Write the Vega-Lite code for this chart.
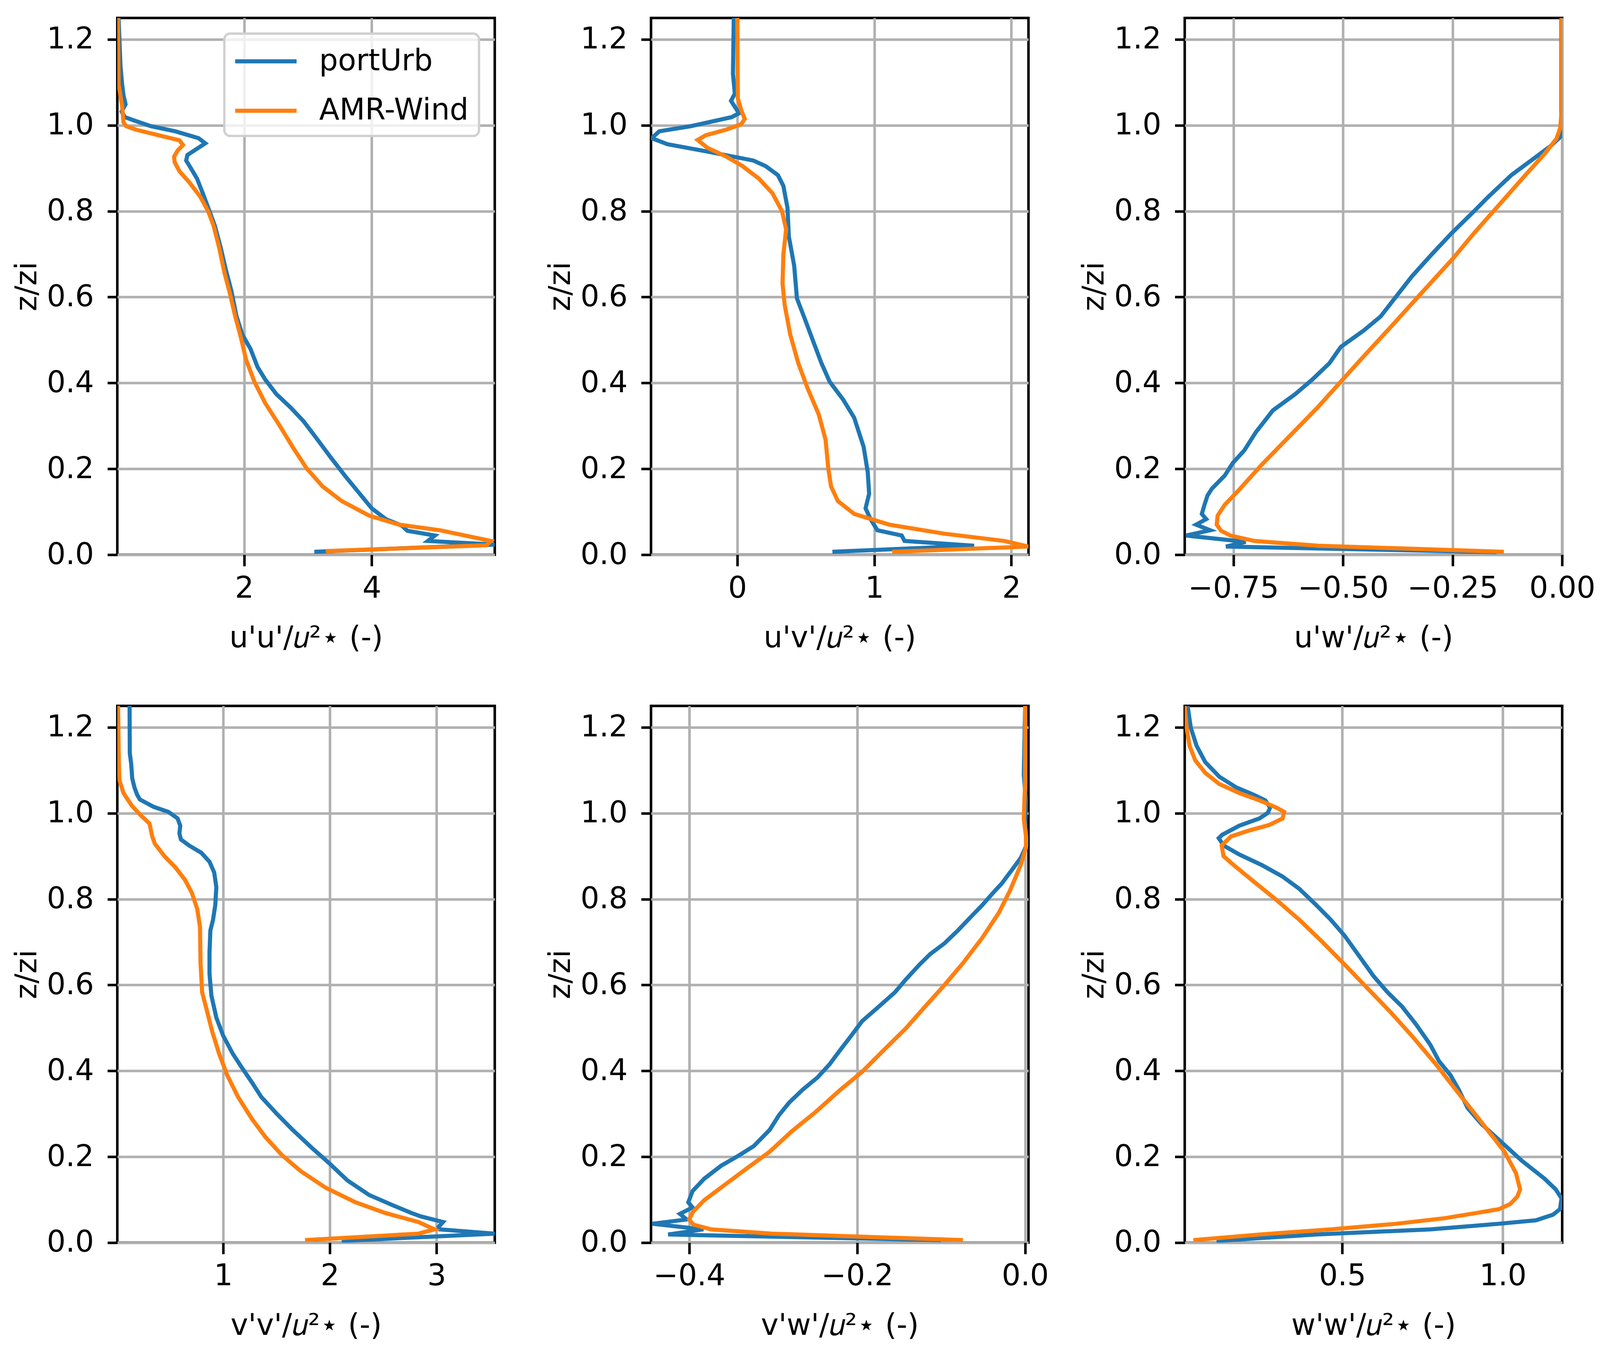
{
"$schema":"https://vega.github.io/schema/vega-lite/v6.json",
"background":"white",
"padding":{"left":27.3,"top":42,"right":3,"bottom":3},
"data":{"values":[
{"panel":"uu","model":"portUrb","x":0.03,"z":1.25},{"panel":"uu","model":"portUrb","x":0.06,"z":1.138},{"panel":"uu","model":"portUrb","x":0.086,"z":1.095},{"panel":"uu","model":"portUrb","x":0.107,"z":1.07},{"panel":"uu","model":"portUrb","x":0.14,"z":1.049},{"panel":"uu","model":"portUrb","x":0.077,"z":1.032},{"panel":"uu","model":"portUrb","x":0.13,"z":1.019},{"panel":"uu","model":"portUrb","x":0.28,"z":1.011},{"panel":"uu","model":"portUrb","x":0.535,"z":0.998},{"panel":"uu","model":"portUrb","x":0.92,"z":0.986},{"panel":"uu","model":"portUrb","x":1.285,"z":0.97},{"panel":"uu","model":"portUrb","x":1.39,"z":0.958},{"panel":"uu","model":"portUrb","x":1.11,"z":0.931},{"panel":"uu","model":"portUrb","x":1.09,"z":0.918},{"panel":"uu","model":"portUrb","x":1.16,"z":0.901},{"panel":"uu","model":"portUrb","x":1.26,"z":0.876},{"panel":"uu","model":"portUrb","x":1.35,"z":0.842},{"panel":"uu","model":"portUrb","x":1.456,"z":0.8},{"panel":"uu","model":"portUrb","x":1.54,"z":0.766},{"panel":"uu","model":"portUrb","x":1.63,"z":0.716},{"panel":"uu","model":"portUrb","x":1.71,"z":0.665},{"panel":"uu","model":"portUrb","x":1.8,"z":0.614},{"panel":"uu","model":"portUrb","x":1.88,"z":0.555},{"panel":"uu","model":"portUrb","x":1.97,"z":0.513},{"panel":"uu","model":"portUrb","x":2.1,"z":0.479},{"panel":"uu","model":"portUrb","x":2.21,"z":0.437},{"panel":"uu","model":"portUrb","x":2.33,"z":0.408},{"panel":"uu","model":"portUrb","x":2.505,"z":0.374},{"panel":"uu","model":"portUrb","x":2.72,"z":0.344},{"panel":"uu","model":"portUrb","x":2.93,"z":0.311},{"panel":"uu","model":"portUrb","x":3.15,"z":0.268},{"panel":"uu","model":"portUrb","x":3.36,"z":0.226},{"panel":"uu","model":"portUrb","x":3.58,"z":0.184},{"panel":"uu","model":"portUrb","x":3.79,"z":0.146},{"panel":"uu","model":"portUrb","x":4.0,"z":0.108},{"panel":"uu","model":"portUrb","x":4.22,"z":0.083},{"panel":"uu","model":"portUrb","x":4.475,"z":0.0675},{"panel":"uu","model":"portUrb","x":4.56,"z":0.0557},{"panel":"uu","model":"portUrb","x":4.99,"z":0.0447},{"panel":"uu","model":"portUrb","x":4.88,"z":0.032},{"panel":"uu","model":"portUrb","x":5.93,"z":0.0236},{"panel":"uu","model":"portUrb","x":3.1,"z":0.0068},
{"panel":"uv","model":"portUrb","x":-0.026,"z":1.25},{"panel":"uv","model":"portUrb","x":-0.032,"z":1.12},{"panel":"uv","model":"portUrb","x":-0.026,"z":1.1},{"panel":"uv","model":"portUrb","x":-0.018,"z":1.074},{"panel":"uv","model":"portUrb","x":-0.046,"z":1.057},{"panel":"uv","model":"portUrb","x":-0.022,"z":1.045},{"panel":"uv","model":"portUrb","x":0.012,"z":1.028},{"panel":"uv","model":"portUrb","x":-0.042,"z":1.019},{"panel":"uv","model":"portUrb","x":-0.34,"z":0.998},{"panel":"uv","model":"portUrb","x":-0.57,"z":0.986},{"panel":"uv","model":"portUrb","x":-0.625,"z":0.97},{"panel":"uv","model":"portUrb","x":-0.51,"z":0.956},{"panel":"uv","model":"portUrb","x":-0.22,"z":0.939},{"panel":"uv","model":"portUrb","x":0.117,"z":0.918},{"panel":"uv","model":"portUrb","x":0.207,"z":0.905},{"panel":"uv","model":"portUrb","x":0.296,"z":0.884},{"panel":"uv","model":"portUrb","x":0.336,"z":0.859},{"panel":"uv","model":"portUrb","x":0.366,"z":0.808},{"panel":"uv","model":"portUrb","x":0.376,"z":0.741},{"panel":"uv","model":"portUrb","x":0.415,"z":0.673},{"panel":"uv","model":"portUrb","x":0.435,"z":0.597},{"panel":"uv","model":"portUrb","x":0.495,"z":0.547},{"panel":"uv","model":"portUrb","x":0.555,"z":0.496},{"panel":"uv","model":"portUrb","x":0.614,"z":0.446},{"panel":"uv","model":"portUrb","x":0.674,"z":0.403},{"panel":"uv","model":"portUrb","x":0.773,"z":0.361},{"panel":"uv","model":"portUrb","x":0.853,"z":0.319},{"panel":"uv","model":"portUrb","x":0.922,"z":0.251},{"panel":"uv","model":"portUrb","x":0.952,"z":0.192},{"panel":"uv","model":"portUrb","x":0.962,"z":0.142},{"panel":"uv","model":"portUrb","x":0.936,"z":0.108},{"panel":"uv","model":"portUrb","x":0.972,"z":0.083},{"panel":"uv","model":"portUrb","x":1.022,"z":0.057},{"panel":"uv","model":"portUrb","x":1.2,"z":0.0447},{"panel":"uv","model":"portUrb","x":1.22,"z":0.032},{"panel":"uv","model":"portUrb","x":1.728,"z":0.021},{"panel":"uv","model":"portUrb","x":0.694,"z":0.0068},
{"panel":"uw","model":"portUrb","x":-0.002,"z":1.25},{"panel":"uw","model":"portUrb","x":-0.002,"z":1.0},{"panel":"uw","model":"portUrb","x":0.0,"z":0.977},{"panel":"uw","model":"portUrb","x":-0.026,"z":0.952},{"panel":"uw","model":"portUrb","x":-0.071,"z":0.918},{"panel":"uw","model":"portUrb","x":-0.116,"z":0.884},{"panel":"uw","model":"portUrb","x":-0.168,"z":0.834},{"panel":"uw","model":"portUrb","x":-0.201,"z":0.8},{"panel":"uw","model":"portUrb","x":-0.252,"z":0.749},{"panel":"uw","model":"portUrb","x":-0.298,"z":0.699},{"panel":"uw","model":"portUrb","x":-0.343,"z":0.648},{"panel":"uw","model":"portUrb","x":-0.382,"z":0.597},{"panel":"uw","model":"portUrb","x":-0.414,"z":0.555},{"panel":"uw","model":"portUrb","x":-0.453,"z":0.522},{"panel":"uw","model":"portUrb","x":-0.505,"z":0.484},{"panel":"uw","model":"portUrb","x":-0.531,"z":0.446},{"panel":"uw","model":"portUrb","x":-0.57,"z":0.408},{"panel":"uw","model":"portUrb","x":-0.609,"z":0.374},{"panel":"uw","model":"portUrb","x":-0.66,"z":0.336},{"panel":"uw","model":"portUrb","x":-0.699,"z":0.285},{"panel":"uw","model":"portUrb","x":-0.725,"z":0.243},{"panel":"uw","model":"portUrb","x":-0.751,"z":0.214},{"panel":"uw","model":"portUrb","x":-0.77,"z":0.184},{"panel":"uw","model":"portUrb","x":-0.799,"z":0.154},{"panel":"uw","model":"portUrb","x":-0.809,"z":0.138},{"panel":"uw","model":"portUrb","x":-0.816,"z":0.116},{"panel":"uw","model":"portUrb","x":-0.822,"z":0.095},{"panel":"uw","model":"portUrb","x":-0.812,"z":0.083},{"panel":"uw","model":"portUrb","x":-0.835,"z":0.07},{"panel":"uw","model":"portUrb","x":-0.803,"z":0.057},{"panel":"uw","model":"portUrb","x":-0.858,"z":0.0447},{"panel":"uw","model":"portUrb","x":-0.722,"z":0.03},{"panel":"uw","model":"portUrb","x":-0.767,"z":0.019},{"panel":"uw","model":"portUrb","x":-0.15,"z":0.006},
{"panel":"vv","model":"portUrb","x":0.123,"z":1.25},{"panel":"vv","model":"portUrb","x":0.125,"z":1.14},{"panel":"vv","model":"portUrb","x":0.138,"z":1.115},{"panel":"vv","model":"portUrb","x":0.148,"z":1.081},{"panel":"vv","model":"portUrb","x":0.169,"z":1.06},{"panel":"vv","model":"portUrb","x":0.194,"z":1.043},{"panel":"vv","model":"portUrb","x":0.22,"z":1.032},{"panel":"vv","model":"portUrb","x":0.348,"z":1.015},{"panel":"vv","model":"portUrb","x":0.488,"z":1.003},{"panel":"vv","model":"portUrb","x":0.573,"z":0.988},{"panel":"vv","model":"portUrb","x":0.598,"z":0.971},{"panel":"vv","model":"portUrb","x":0.59,"z":0.953},{"panel":"vv","model":"portUrb","x":0.604,"z":0.939},{"panel":"vv","model":"portUrb","x":0.68,"z":0.925},{"panel":"vv","model":"portUrb","x":0.795,"z":0.908},{"panel":"vv","model":"portUrb","x":0.872,"z":0.887},{"panel":"vv","model":"portUrb","x":0.916,"z":0.862},{"panel":"vv","model":"portUrb","x":0.936,"z":0.828},{"panel":"vv","model":"portUrb","x":0.926,"z":0.786},{"panel":"vv","model":"portUrb","x":0.905,"z":0.752},{"panel":"vv","model":"portUrb","x":0.88,"z":0.727},{"panel":"vv","model":"portUrb","x":0.872,"z":0.676},{"panel":"vv","model":"portUrb","x":0.872,"z":0.626},{"panel":"vv","model":"portUrb","x":0.89,"z":0.575},{"panel":"vv","model":"portUrb","x":0.936,"z":0.524},{"panel":"vv","model":"portUrb","x":1.0,"z":0.482},{"panel":"vv","model":"portUrb","x":1.09,"z":0.44},{"panel":"vv","model":"portUrb","x":1.166,"z":0.411},{"panel":"vv","model":"portUrb","x":1.27,"z":0.373},{"panel":"vv","model":"portUrb","x":1.358,"z":0.339},{"panel":"vv","model":"portUrb","x":1.499,"z":0.301},{"panel":"vv","model":"portUrb","x":1.65,"z":0.263},{"panel":"vv","model":"portUrb","x":1.83,"z":0.221},{"panel":"vv","model":"portUrb","x":1.985,"z":0.187},{"panel":"vv","model":"portUrb","x":2.164,"z":0.145},{"panel":"vv","model":"portUrb","x":2.368,"z":0.111},{"panel":"vv","model":"portUrb","x":2.6,"z":0.086},{"panel":"vv","model":"portUrb","x":2.765,"z":0.069},{"panel":"vv","model":"portUrb","x":2.854,"z":0.061},{"panel":"vv","model":"portUrb","x":3.06,"z":0.048},{"panel":"vv","model":"portUrb","x":3.02,"z":0.037},{"panel":"vv","model":"portUrb","x":3.03,"z":0.031},{"panel":"vv","model":"portUrb","x":3.545,"z":0.021},{"panel":"vv","model":"portUrb","x":2.11,"z":0.004},
{"panel":"vw","model":"portUrb","x":0.0,"z":1.25},{"panel":"vw","model":"portUrb","x":-0.0016,"z":1.089},{"panel":"vw","model":"portUrb","x":0.001,"z":1.03},{"panel":"vw","model":"portUrb","x":0.0,"z":0.971},{"panel":"vw","model":"portUrb","x":0.0026,"z":0.929},{"panel":"vw","model":"portUrb","x":-0.0055,"z":0.895},{"panel":"vw","model":"portUrb","x":-0.018,"z":0.862},{"panel":"vw","model":"portUrb","x":-0.028,"z":0.836},{"panel":"vw","model":"portUrb","x":-0.038,"z":0.815},{"panel":"vw","model":"portUrb","x":-0.051,"z":0.786},{"panel":"vw","model":"portUrb","x":-0.064,"z":0.76},{"panel":"vw","model":"portUrb","x":-0.08,"z":0.727},{"panel":"vw","model":"portUrb","x":-0.096,"z":0.697},{"panel":"vw","model":"portUrb","x":-0.113,"z":0.672},{"panel":"vw","model":"portUrb","x":-0.126,"z":0.647},{"panel":"vw","model":"portUrb","x":-0.142,"z":0.613},{"panel":"vw","model":"portUrb","x":-0.155,"z":0.583},{"panel":"vw","model":"portUrb","x":-0.174,"z":0.55},{"panel":"vw","model":"portUrb","x":-0.194,"z":0.516},{"panel":"vw","model":"portUrb","x":-0.207,"z":0.482},{"panel":"vw","model":"portUrb","x":-0.22,"z":0.449},{"panel":"vw","model":"portUrb","x":-0.233,"z":0.415},{"panel":"vw","model":"portUrb","x":-0.247,"z":0.385},{"panel":"vw","model":"portUrb","x":-0.265,"z":0.356},{"panel":"vw","model":"portUrb","x":-0.281,"z":0.326},{"panel":"vw","model":"portUrb","x":-0.293,"z":0.297},{"panel":"vw","model":"portUrb","x":-0.304,"z":0.263},{"panel":"vw","model":"portUrb","x":-0.323,"z":0.225},{"panel":"vw","model":"portUrb","x":-0.34,"z":0.204},{"panel":"vw","model":"portUrb","x":-0.362,"z":0.179},{"panel":"vw","model":"portUrb","x":-0.382,"z":0.149},{"panel":"vw","model":"portUrb","x":-0.396,"z":0.12},{"panel":"vw","model":"portUrb","x":-0.401,"z":0.094},{"panel":"vw","model":"portUrb","x":-0.396,"z":0.082},{"panel":"vw","model":"portUrb","x":-0.411,"z":0.067},{"panel":"vw","model":"portUrb","x":-0.403,"z":0.054},{"panel":"vw","model":"portUrb","x":-0.444,"z":0.044},{"panel":"vw","model":"portUrb","x":-0.383,"z":0.031},{"panel":"vw","model":"portUrb","x":-0.425,"z":0.019},{"panel":"vw","model":"portUrb","x":-0.1,"z":0.006},
{"panel":"ww","model":"portUrb","x":0.018,"z":1.25},{"panel":"ww","model":"portUrb","x":0.028,"z":1.199},{"panel":"ww","model":"portUrb","x":0.046,"z":1.157},{"panel":"ww","model":"portUrb","x":0.073,"z":1.119},{"panel":"ww","model":"portUrb","x":0.117,"z":1.085},{"panel":"ww","model":"portUrb","x":0.17,"z":1.06},{"panel":"ww","model":"portUrb","x":0.224,"z":1.043},{"panel":"ww","model":"portUrb","x":0.26,"z":1.03},{"panel":"ww","model":"portUrb","x":0.275,"z":1.013},{"panel":"ww","model":"portUrb","x":0.268,"z":1.001},{"panel":"ww","model":"portUrb","x":0.242,"z":0.988},{"panel":"ww","model":"portUrb","x":0.179,"z":0.971},{"panel":"ww","model":"portUrb","x":0.126,"z":0.95},{"panel":"ww","model":"portUrb","x":0.115,"z":0.942},{"panel":"ww","model":"portUrb","x":0.13,"z":0.925},{"panel":"ww","model":"portUrb","x":0.179,"z":0.904},{"panel":"ww","model":"portUrb","x":0.25,"z":0.879},{"panel":"ww","model":"portUrb","x":0.313,"z":0.853},{"panel":"ww","model":"portUrb","x":0.366,"z":0.824},{"panel":"ww","model":"portUrb","x":0.419,"z":0.786},{"panel":"ww","model":"portUrb","x":0.464,"z":0.752},{"panel":"ww","model":"portUrb","x":0.508,"z":0.714},{"panel":"ww","model":"portUrb","x":0.552,"z":0.668},{"panel":"ww","model":"portUrb","x":0.597,"z":0.621},{"panel":"ww","model":"portUrb","x":0.641,"z":0.583},{"panel":"ww","model":"portUrb","x":0.686,"z":0.55},{"panel":"ww","model":"portUrb","x":0.73,"z":0.508},{"panel":"ww","model":"portUrb","x":0.774,"z":0.461},{"panel":"ww","model":"portUrb","x":0.801,"z":0.423},{"panel":"ww","model":"portUrb","x":0.837,"z":0.39},{"panel":"ww","model":"portUrb","x":0.863,"z":0.356},{"panel":"ww","model":"portUrb","x":0.89,"z":0.314},{"panel":"ww","model":"portUrb","x":0.934,"z":0.276},{"panel":"ww","model":"portUrb","x":0.996,"z":0.234},{"panel":"ww","model":"portUrb","x":1.059,"z":0.191},{"panel":"ww","model":"portUrb","x":1.13,"z":0.149},{"panel":"ww","model":"portUrb","x":1.165,"z":0.124},{"panel":"ww","model":"portUrb","x":1.183,"z":0.103},{"panel":"ww","model":"portUrb","x":1.178,"z":0.078},{"panel":"ww","model":"portUrb","x":1.156,"z":0.065},{"panel":"ww","model":"portUrb","x":1.103,"z":0.052},{"panel":"ww","model":"portUrb","x":0.988,"z":0.044},{"panel":"ww","model":"portUrb","x":0.774,"z":0.031},{"panel":"ww","model":"portUrb","x":0.419,"z":0.019},{"panel":"ww","model":"portUrb","x":0.108,"z":0.004},
{"panel":"uu","model":"AMR-Wind","x":0.02,"z":1.25},{"panel":"uu","model":"AMR-Wind","x":0.03,"z":1.095},{"panel":"uu","model":"AMR-Wind","x":0.086,"z":1.045},{"panel":"uu","model":"AMR-Wind","x":0.107,"z":1.007},{"panel":"uu","model":"AMR-Wind","x":0.15,"z":0.998},{"panel":"uu","model":"AMR-Wind","x":0.3,"z":0.99},{"panel":"uu","model":"AMR-Wind","x":0.71,"z":0.975},{"panel":"uu","model":"AMR-Wind","x":0.985,"z":0.965},{"panel":"uu","model":"AMR-Wind","x":1.04,"z":0.954},{"panel":"uu","model":"AMR-Wind","x":0.96,"z":0.942},{"panel":"uu","model":"AMR-Wind","x":0.9,"z":0.927},{"panel":"uu","model":"AMR-Wind","x":0.91,"z":0.914},{"panel":"uu","model":"AMR-Wind","x":0.985,"z":0.893},{"panel":"uu","model":"AMR-Wind","x":1.135,"z":0.868},{"panel":"uu","model":"AMR-Wind","x":1.31,"z":0.834},{"panel":"uu","model":"AMR-Wind","x":1.435,"z":0.8},{"panel":"uu","model":"AMR-Wind","x":1.52,"z":0.766},{"panel":"uu","model":"AMR-Wind","x":1.606,"z":0.716},{"panel":"uu","model":"AMR-Wind","x":1.69,"z":0.657},{"panel":"uu","model":"AMR-Wind","x":1.78,"z":0.606},{"panel":"uu","model":"AMR-Wind","x":1.86,"z":0.555},{"panel":"uu","model":"AMR-Wind","x":1.95,"z":0.505},{"panel":"uu","model":"AMR-Wind","x":2.03,"z":0.454},{"panel":"uu","model":"AMR-Wind","x":2.16,"z":0.403},{"panel":"uu","model":"AMR-Wind","x":2.33,"z":0.353},{"panel":"uu","model":"AMR-Wind","x":2.55,"z":0.302},{"panel":"uu","model":"AMR-Wind","x":2.76,"z":0.251},{"panel":"uu","model":"AMR-Wind","x":2.98,"z":0.201},{"panel":"uu","model":"AMR-Wind","x":3.23,"z":0.159},{"panel":"uu","model":"AMR-Wind","x":3.53,"z":0.125},{"panel":"uu","model":"AMR-Wind","x":3.96,"z":0.091},{"panel":"uu","model":"AMR-Wind","x":4.43,"z":0.07},{"panel":"uu","model":"AMR-Wind","x":5.07,"z":0.057},{"panel":"uu","model":"AMR-Wind","x":5.87,"z":0.032},{"panel":"uu","model":"AMR-Wind","x":5.8,"z":0.022},{"panel":"uu","model":"AMR-Wind","x":3.28,"z":0.0084},
{"panel":"uv","model":"AMR-Wind","x":0.0,"z":1.25},{"panel":"uv","model":"AMR-Wind","x":0.002,"z":1.12},{"panel":"uv","model":"AMR-Wind","x":0.004,"z":1.062},{"panel":"uv","model":"AMR-Wind","x":0.028,"z":1.036},{"panel":"uv","model":"AMR-Wind","x":0.054,"z":1.015},{"panel":"uv","model":"AMR-Wind","x":0.028,"z":1.0025},{"panel":"uv","model":"AMR-Wind","x":-0.08,"z":0.99},{"panel":"uv","model":"AMR-Wind","x":-0.23,"z":0.977},{"panel":"uv","model":"AMR-Wind","x":-0.29,"z":0.966},{"panel":"uv","model":"AMR-Wind","x":-0.22,"z":0.948},{"panel":"uv","model":"AMR-Wind","x":-0.08,"z":0.927},{"panel":"uv","model":"AMR-Wind","x":0.038,"z":0.905},{"panel":"uv","model":"AMR-Wind","x":0.157,"z":0.876},{"panel":"uv","model":"AMR-Wind","x":0.256,"z":0.842},{"panel":"uv","model":"AMR-Wind","x":0.326,"z":0.8},{"panel":"uv","model":"AMR-Wind","x":0.356,"z":0.758},{"panel":"uv","model":"AMR-Wind","x":0.336,"z":0.699},{"panel":"uv","model":"AMR-Wind","x":0.33,"z":0.631},{"panel":"uv","model":"AMR-Wind","x":0.346,"z":0.581},{"panel":"uv","model":"AMR-Wind","x":0.386,"z":0.513},{"panel":"uv","model":"AMR-Wind","x":0.445,"z":0.446},{"panel":"uv","model":"AMR-Wind","x":0.515,"z":0.386},{"panel":"uv","model":"AMR-Wind","x":0.594,"z":0.327},{"panel":"uv","model":"AMR-Wind","x":0.644,"z":0.268},{"panel":"uv","model":"AMR-Wind","x":0.664,"z":0.201},{"panel":"uv","model":"AMR-Wind","x":0.684,"z":0.159},{"panel":"uv","model":"AMR-Wind","x":0.734,"z":0.125},{"panel":"uv","model":"AMR-Wind","x":0.853,"z":0.095},{"panel":"uv","model":"AMR-Wind","x":1.11,"z":0.07},{"panel":"uv","model":"AMR-Wind","x":1.51,"z":0.049},{"panel":"uv","model":"AMR-Wind","x":1.95,"z":0.032},{"panel":"uv","model":"AMR-Wind","x":2.125,"z":0.019},{"panel":"uv","model":"AMR-Wind","x":1.13,"z":0.0068},
{"panel":"uw","model":"AMR-Wind","x":-0.001,"z":1.25},{"panel":"uw","model":"AMR-Wind","x":-0.001,"z":1.036},{"panel":"uw","model":"AMR-Wind","x":-0.0045,"z":0.994},{"panel":"uw","model":"AMR-Wind","x":-0.013,"z":0.969},{"panel":"uw","model":"AMR-Wind","x":-0.039,"z":0.935},{"panel":"uw","model":"AMR-Wind","x":-0.084,"z":0.884},{"panel":"uw","model":"AMR-Wind","x":-0.142,"z":0.817},{"panel":"uw","model":"AMR-Wind","x":-0.201,"z":0.749},{"panel":"uw","model":"AMR-Wind","x":-0.249,"z":0.69},{"panel":"uw","model":"AMR-Wind","x":-0.324,"z":0.606},{"panel":"uw","model":"AMR-Wind","x":-0.395,"z":0.526},{"panel":"uw","model":"AMR-Wind","x":-0.46,"z":0.454},{"panel":"uw","model":"AMR-Wind","x":-0.505,"z":0.403},{"panel":"uw","model":"AMR-Wind","x":-0.557,"z":0.344},{"panel":"uw","model":"AMR-Wind","x":-0.621,"z":0.277},{"panel":"uw","model":"AMR-Wind","x":-0.686,"z":0.209},{"panel":"uw","model":"AMR-Wind","x":-0.738,"z":0.15},{"panel":"uw","model":"AMR-Wind","x":-0.77,"z":0.116},{"panel":"uw","model":"AMR-Wind","x":-0.786,"z":0.091},{"panel":"uw","model":"AMR-Wind","x":-0.788,"z":0.07},{"panel":"uw","model":"AMR-Wind","x":-0.778,"z":0.0557},{"panel":"uw","model":"AMR-Wind","x":-0.757,"z":0.0447},{"panel":"uw","model":"AMR-Wind","x":-0.702,"z":0.032},{"panel":"uw","model":"AMR-Wind","x":-0.556,"z":0.021},{"panel":"uw","model":"AMR-Wind","x":-0.133,"z":0.0068},
{"panel":"vv","model":"AMR-Wind","x":0.015,"z":1.25},{"panel":"vv","model":"AMR-Wind","x":0.023,"z":1.115},{"panel":"vv","model":"AMR-Wind","x":0.028,"z":1.077},{"panel":"vv","model":"AMR-Wind","x":0.066,"z":1.047},{"panel":"vv","model":"AMR-Wind","x":0.143,"z":1.018},{"panel":"vv","model":"AMR-Wind","x":0.22,"z":0.997},{"panel":"vv","model":"AMR-Wind","x":0.31,"z":0.976},{"panel":"vv","model":"AMR-Wind","x":0.335,"z":0.946},{"panel":"vv","model":"AMR-Wind","x":0.36,"z":0.929},{"panel":"vv","model":"AMR-Wind","x":0.45,"z":0.9},{"panel":"vv","model":"AMR-Wind","x":0.552,"z":0.874},{"panel":"vv","model":"AMR-Wind","x":0.642,"z":0.845},{"panel":"vv","model":"AMR-Wind","x":0.706,"z":0.815},{"panel":"vv","model":"AMR-Wind","x":0.757,"z":0.777},{"panel":"vv","model":"AMR-Wind","x":0.783,"z":0.735},{"panel":"vv","model":"AMR-Wind","x":0.788,"z":0.651},{"panel":"vv","model":"AMR-Wind","x":0.803,"z":0.583},{"panel":"vv","model":"AMR-Wind","x":0.847,"z":0.541},{"panel":"vv","model":"AMR-Wind","x":0.898,"z":0.491},{"panel":"vv","model":"AMR-Wind","x":0.962,"z":0.44},{"panel":"vv","model":"AMR-Wind","x":1.038,"z":0.39},{"panel":"vv","model":"AMR-Wind","x":1.14,"z":0.339},{"panel":"vv","model":"AMR-Wind","x":1.27,"z":0.288},{"panel":"vv","model":"AMR-Wind","x":1.396,"z":0.246},{"panel":"vv","model":"AMR-Wind","x":1.55,"z":0.204},{"panel":"vv","model":"AMR-Wind","x":1.73,"z":0.166},{"panel":"vv","model":"AMR-Wind","x":1.96,"z":0.128},{"panel":"vv","model":"AMR-Wind","x":2.24,"z":0.094},{"panel":"vv","model":"AMR-Wind","x":2.52,"z":0.069},{"panel":"vv","model":"AMR-Wind","x":2.83,"z":0.048},{"panel":"vv","model":"AMR-Wind","x":2.98,"z":0.031},{"panel":"vv","model":"AMR-Wind","x":2.83,"z":0.021},{"panel":"vv","model":"AMR-Wind","x":1.767,"z":0.006},
{"panel":"vw","model":"AMR-Wind","x":0.0,"z":1.25},{"panel":"vw","model":"AMR-Wind","x":0.0,"z":1.072},{"panel":"vw","model":"AMR-Wind","x":-0.0016,"z":0.988},{"panel":"vw","model":"AMR-Wind","x":0.001,"z":0.946},{"panel":"vw","model":"AMR-Wind","x":0.001,"z":0.92},{"panel":"vw","model":"AMR-Wind","x":-0.0055,"z":0.878},{"panel":"vw","model":"AMR-Wind","x":-0.018,"z":0.82},{"panel":"vw","model":"AMR-Wind","x":-0.031,"z":0.769},{"panel":"vw","model":"AMR-Wind","x":-0.051,"z":0.71},{"panel":"vw","model":"AMR-Wind","x":-0.074,"z":0.651},{"panel":"vw","model":"AMR-Wind","x":-0.096,"z":0.6},{"panel":"vw","model":"AMR-Wind","x":-0.119,"z":0.55},{"panel":"vw","model":"AMR-Wind","x":-0.142,"z":0.499},{"panel":"vw","model":"AMR-Wind","x":-0.168,"z":0.449},{"panel":"vw","model":"AMR-Wind","x":-0.194,"z":0.398},{"panel":"vw","model":"AMR-Wind","x":-0.22,"z":0.356},{"panel":"vw","model":"AMR-Wind","x":-0.249,"z":0.305},{"panel":"vw","model":"AMR-Wind","x":-0.278,"z":0.259},{"panel":"vw","model":"AMR-Wind","x":-0.304,"z":0.212},{"panel":"vw","model":"AMR-Wind","x":-0.33,"z":0.175},{"panel":"vw","model":"AMR-Wind","x":-0.356,"z":0.137},{"panel":"vw","model":"AMR-Wind","x":-0.382,"z":0.099},{"panel":"vw","model":"AMR-Wind","x":-0.395,"z":0.073},{"panel":"vw","model":"AMR-Wind","x":-0.4,"z":0.054},{"panel":"vw","model":"AMR-Wind","x":-0.395,"z":0.042},{"panel":"vw","model":"AMR-Wind","x":-0.374,"z":0.031},{"panel":"vw","model":"AMR-Wind","x":-0.301,"z":0.021},{"panel":"vw","model":"AMR-Wind","x":-0.074,"z":0.006},
{"panel":"ww","model":"AMR-Wind","x":0.009,"z":1.25},{"panel":"ww","model":"AMR-Wind","x":0.015,"z":1.199},{"panel":"ww","model":"AMR-Wind","x":0.024,"z":1.157},{"panel":"ww","model":"AMR-Wind","x":0.042,"z":1.123},{"panel":"ww","model":"AMR-Wind","x":0.073,"z":1.094},{"panel":"ww","model":"AMR-Wind","x":0.117,"z":1.068},{"panel":"ww","model":"AMR-Wind","x":0.179,"z":1.047},{"panel":"ww","model":"AMR-Wind","x":0.242,"z":1.03},{"panel":"ww","model":"AMR-Wind","x":0.295,"z":1.013},{"panel":"ww","model":"AMR-Wind","x":0.319,"z":1.003},{"panel":"ww","model":"AMR-Wind","x":0.314,"z":0.988},{"panel":"ww","model":"AMR-Wind","x":0.273,"z":0.973},{"panel":"ww","model":"AMR-Wind","x":0.206,"z":0.959},{"panel":"ww","model":"AMR-Wind","x":0.153,"z":0.946},{"panel":"ww","model":"AMR-Wind","x":0.124,"z":0.925},{"panel":"ww","model":"AMR-Wind","x":0.13,"z":0.9},{"panel":"ww","model":"AMR-Wind","x":0.162,"z":0.879},{"panel":"ww","model":"AMR-Wind","x":0.224,"z":0.841},{"panel":"ww","model":"AMR-Wind","x":0.295,"z":0.798},{"panel":"ww","model":"AMR-Wind","x":0.366,"z":0.752},{"panel":"ww","model":"AMR-Wind","x":0.437,"z":0.701},{"panel":"ww","model":"AMR-Wind","x":0.508,"z":0.647},{"panel":"ww","model":"AMR-Wind","x":0.579,"z":0.592},{"panel":"ww","model":"AMR-Wind","x":0.65,"z":0.537},{"panel":"ww","model":"AMR-Wind","x":0.721,"z":0.478},{"panel":"ww","model":"AMR-Wind","x":0.792,"z":0.415},{"panel":"ww","model":"AMR-Wind","x":0.863,"z":0.347},{"panel":"ww","model":"AMR-Wind","x":0.934,"z":0.28},{"panel":"ww","model":"AMR-Wind","x":1.005,"z":0.212},{"panel":"ww","model":"AMR-Wind","x":1.041,"z":0.162},{"panel":"ww","model":"AMR-Wind","x":1.054,"z":0.124},{"panel":"ww","model":"AMR-Wind","x":1.045,"z":0.107},{"panel":"ww","model":"AMR-Wind","x":1.023,"z":0.09},{"panel":"ww","model":"AMR-Wind","x":0.988,"z":0.078},{"panel":"ww","model":"AMR-Wind","x":0.917,"z":0.069},{"panel":"ww","model":"AMR-Wind","x":0.819,"z":0.057},{"panel":"ww","model":"AMR-Wind","x":0.668,"z":0.044},{"panel":"ww","model":"AMR-Wind","x":0.464,"z":0.031},{"panel":"ww","model":"AMR-Wind","x":0.242,"z":0.019},{"panel":"ww","model":"AMR-Wind","x":0.036,"z":0.006}
]},
"columns":3,
"spacing":{"row":387,"column":399.3},
"bounds":"flush",
"resolve":{"scale":{"color":"independent"},"legend":{"color":"independent"}},
"concat":[
{"width":966.3,"height":1374,"transform":[{"filter":"datum.panel === 'uu'"}],"mark":{"type":"line","strokeWidth":10.5,"clip":true},
 "encoding":{
  "x":{"field":"x","type":"quantitative","scale":{"domain":[0.01,5.93],"nice":false,"zero":false},"axis":{"title":"u'u'/𝑢²⋆  (-)","values":[2,4],"format":"d"}},
  "y":{"field":"z","type":"quantitative","scale":{"domain":[0,1.25],"nice":false,"zero":false},"axis":{"title":"z/zi","values":[0,0.2,0.4,0.6,0.8,1.0,1.2],"format":".1f"}},
  "color":{"field":"model","type":"nominal","scale":{"domain":["portUrb","AMR-Wind"],"range":["#1f77b4","#ff7f0e"]},
   "legend":{"title":null,"orient":"top-right","offset":40,"symbolType":"M-1.1,0H2.9","symbolSize":6180,"symbolStrokeWidth":10.5,"labelFont":"DejaVu Sans","labelFontSize":76,"labelColor":"black","labelLimit":0,"labelOffset":126.7,"rowPadding":43.4,"padding":26,"cornerRadius":15,"strokeColor":"#d0d0d0","fillColor":"rgba(255,255,255,0.8)",
    "encode":{"legend":{"update":{"strokeWidth":{"value":6}}}}}},
  "order":{"field":"z","type":"quantitative","sort":"descending"}}},
{"width":966.3,"height":1374,"transform":[{"filter":"datum.panel === 'uv'"}],"mark":{"type":"line","strokeWidth":10.5,"clip":true},
 "encoding":{
  "x":{"field":"x","type":"quantitative","scale":{"domain":[-0.63,2.125],"nice":false,"zero":false},"axis":{"title":"u'v'/𝑢²⋆  (-)","values":[0,1,2],"format":"d"}},
  "y":{"field":"z","type":"quantitative","scale":{"domain":[0,1.25],"nice":false,"zero":false},"axis":{"title":"z/zi","values":[0,0.2,0.4,0.6,0.8,1.0,1.2],"format":".1f"}},
  "color":{"field":"model","type":"nominal","scale":{"domain":["portUrb","AMR-Wind"],"range":["#1f77b4","#ff7f0e"]},"legend":null},
  "order":{"field":"z","type":"quantitative","sort":"descending"}}},
{"width":966.3,"height":1374,"transform":[{"filter":"datum.panel === 'uw'"}],"mark":{"type":"line","strokeWidth":10.5,"clip":true},
 "encoding":{
  "x":{"field":"x","type":"quantitative","scale":{"domain":[-0.861,0.0],"nice":false,"zero":false},"axis":{"title":"u'w'/𝑢²⋆  (-)","values":[-0.75,-0.5,-0.25,0],"format":".2f"}},
  "y":{"field":"z","type":"quantitative","scale":{"domain":[0,1.25],"nice":false,"zero":false},"axis":{"title":"z/zi","values":[0,0.2,0.4,0.6,0.8,1.0,1.2],"format":".1f"}},
  "color":{"field":"model","type":"nominal","scale":{"domain":["portUrb","AMR-Wind"],"range":["#1f77b4","#ff7f0e"]},"legend":null},
  "order":{"field":"z","type":"quantitative","sort":"descending"}}},
{"width":966.3,"height":1374,"transform":[{"filter":"datum.panel === 'vv'"}],"mark":{"type":"line","strokeWidth":10.5,"clip":true},
 "encoding":{
  "x":{"field":"x","type":"quantitative","scale":{"domain":[0.008,3.545],"nice":false,"zero":false},"axis":{"title":"v'v'/𝑢²⋆  (-)","values":[1,2,3],"format":"d"}},
  "y":{"field":"z","type":"quantitative","scale":{"domain":[0,1.25],"nice":false,"zero":false},"axis":{"title":"z/zi","values":[0,0.2,0.4,0.6,0.8,1.0,1.2],"format":".1f"}},
  "color":{"field":"model","type":"nominal","scale":{"domain":["portUrb","AMR-Wind"],"range":["#1f77b4","#ff7f0e"]},"legend":null},
  "order":{"field":"z","type":"quantitative","sort":"descending"}}},
{"width":966.3,"height":1374,"transform":[{"filter":"datum.panel === 'vw'"}],"mark":{"type":"line","strokeWidth":10.5,"clip":true},
 "encoding":{
  "x":{"field":"x","type":"quantitative","scale":{"domain":[-0.4454,0.004],"nice":false,"zero":false},"axis":{"title":"v'w'/𝑢²⋆  (-)","values":[-0.4,-0.2,0],"format":".1f"}},
  "y":{"field":"z","type":"quantitative","scale":{"domain":[0,1.25],"nice":false,"zero":false},"axis":{"title":"z/zi","values":[0,0.2,0.4,0.6,0.8,1.0,1.2],"format":".1f"}},
  "color":{"field":"model","type":"nominal","scale":{"domain":["portUrb","AMR-Wind"],"range":["#1f77b4","#ff7f0e"]},"legend":null},
  "order":{"field":"z","type":"quantitative","sort":"descending"}}},
{"width":966.3,"height":1374,"transform":[{"filter":"datum.panel === 'ww'"}],"mark":{"type":"line","strokeWidth":10.5,"clip":true},
 "encoding":{
  "x":{"field":"x","type":"quantitative","scale":{"domain":[0.009,1.185],"nice":false,"zero":false},"axis":{"title":"w'w'/𝑢²⋆  (-)","values":[0.5,1.0],"format":".1f"}},
  "y":{"field":"z","type":"quantitative","scale":{"domain":[0,1.25],"nice":false,"zero":false},"axis":{"title":"z/zi","values":[0,0.2,0.4,0.6,0.8,1.0,1.2],"format":".1f"}},
  "color":{"field":"model","type":"nominal","scale":{"domain":["portUrb","AMR-Wind"],"range":["#1f77b4","#ff7f0e"]},"legend":null},
  "order":{"field":"z","type":"quantitative","sort":"descending"}}}
],
"config":{
 "font":"DejaVu Sans",
 "view":{"stroke":"black","strokeWidth":6.5},
 "axis":{"labelFont":"DejaVu Sans","labelFontSize":76,"labelColor":"black","labelLimit":0,"titleFont":"DejaVu Sans","titleFontSize":76,"titleFontWeight":"normal","titleColor":"black","titleLimit":0,"tickColor":"black","tickWidth":6.5,"domain":false,"grid":true,"gridColor":"#b0b0b0","gridWidth":6.5,"gridOpacity":1,"labelFlush":false,"labelOverlap":false,"labelBound":false},
 "axisX":{"tickSize":29,"labelPadding":20,"titlePadding":52},
 "axisY":{"tickSize":25.3,"labelPadding":35,"titlePadding":11}
}
}
